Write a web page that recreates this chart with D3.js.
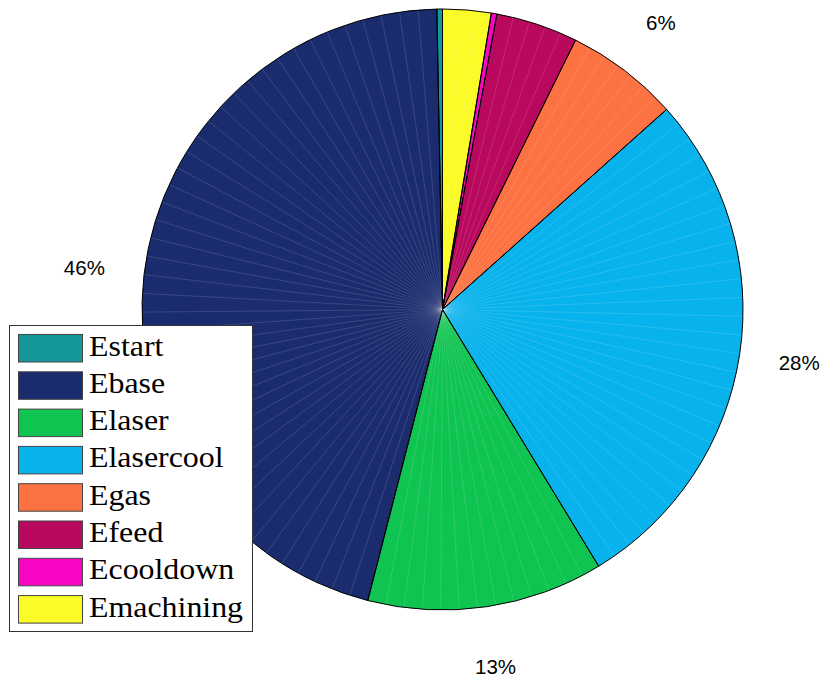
<!DOCTYPE html>
<html><head><meta charset="utf-8">
<script src="https://cdn.jsdelivr.net/npm/d3@7"></script>
<style>body{margin:0;background:#fff}svg{display:block}</style>
</head><body>
<script>
const categories = ["Estart","Ebase","Elaser","Elasercool","Egas","Efeed","Ecooldown","Emachining"];
const values = [0.3, 45.7, 12.7, 27.9, 6.1, 4.4, 0.3, 2.6];
const labels = ["", "46%", "13%", "28%", "6%", "", "", ""];
const colors = ["#16979b","#1b2c6e","#10c451","#08b2ec","#fd7243","#b8095e","#f805c5","#fbfb28"];

const W = 822, H = 678;
const cx = 442.5, cy = 309.5, R = 300.5;
const svg = d3.select("body").append("svg").attr("width", W).attr("height", H);

const pie = d3.pie().sort(null).value(d => d).startAngle(0).endAngle(-2 * Math.PI);
const arcs = pie(values);
const arc = d3.arc().innerRadius(0).outerRadius(R);
const g = svg.append("g").attr("transform", `translate(${cx},${cy})`);

g.selectAll("path.slice").data(arcs).join("path")
  .attr("class", "slice")
  .attr("d", arc)
  .attr("fill", (d, i) => colors[i])
  .attr("stroke", "none");

// faint facet lines (patch triangulation look)
const total = d3.sum(values);
arcs.forEach(a => {
  const n = Math.max(1, Math.ceil(100 * a.value / total));
  const step = (a.endAngle - a.startAngle) / n;
  for (let k = 1; k < n; k++) {
    const t = a.startAngle + k * step;
    g.append("line")
      .attr("x1", 0).attr("y1", 0)
      .attr("x2", R * Math.sin(t)).attr("y2", -R * Math.cos(t))
      .attr("stroke", "rgba(255,255,255,0.22)").attr("stroke-width", 0.6);
  }
});

g.selectAll("path.edge").data(arcs).join("path")
  .attr("class", "edge")
  .attr("d", arc)
  .attr("fill", "none")
  .attr("stroke", "#000").attr("stroke-width", 1);

// percentage labels at 1.2R
g.selectAll("text.lab").data(arcs).join("text")
  .attr("class", "lab")
  .attr("x", d => 1.2 * R * Math.sin((d.startAngle + d.endAngle) / 2))
  .attr("y", d => -1.2 * R * Math.cos((d.startAngle + d.endAngle) / 2))
  .attr("text-anchor", "middle")
  .attr("dominant-baseline", "central")
  .attr("font-family", "'Liberation Sans', Arial, sans-serif")
  .attr("font-size", 20.5)
  .attr("fill", "#000")
  .text((d, i) => labels[i]);

// legend
const lx = 9.5, ly = 325.5, lw = 243, lh = 306;
const leg = svg.append("g");
leg.append("rect").attr("x", lx).attr("y", ly).attr("width", lw).attr("height", lh)
  .attr("fill", "#fff").attr("stroke", "#333").attr("stroke-width", 1);
const rowH = 37.3;
categories.forEach((c, i) => {
  const y0 = 334.5 + i * rowH;
  leg.append("rect").attr("x", 18.5).attr("y", y0).attr("width", 64).attr("height", 27.5)
    .attr("fill", colors[i]).attr("stroke", "#444").attr("stroke-width", 1);
  leg.append("text")
    .attr("transform", `translate(89,${355.5 + i * rowH}) scale(1.1,1)`)
    .attr("font-family", "'Liberation Serif', 'Times New Roman', serif")
    .attr("font-size", 29)
    .attr("fill", "#000")
    .text(c);
});
</script>
</body></html>
